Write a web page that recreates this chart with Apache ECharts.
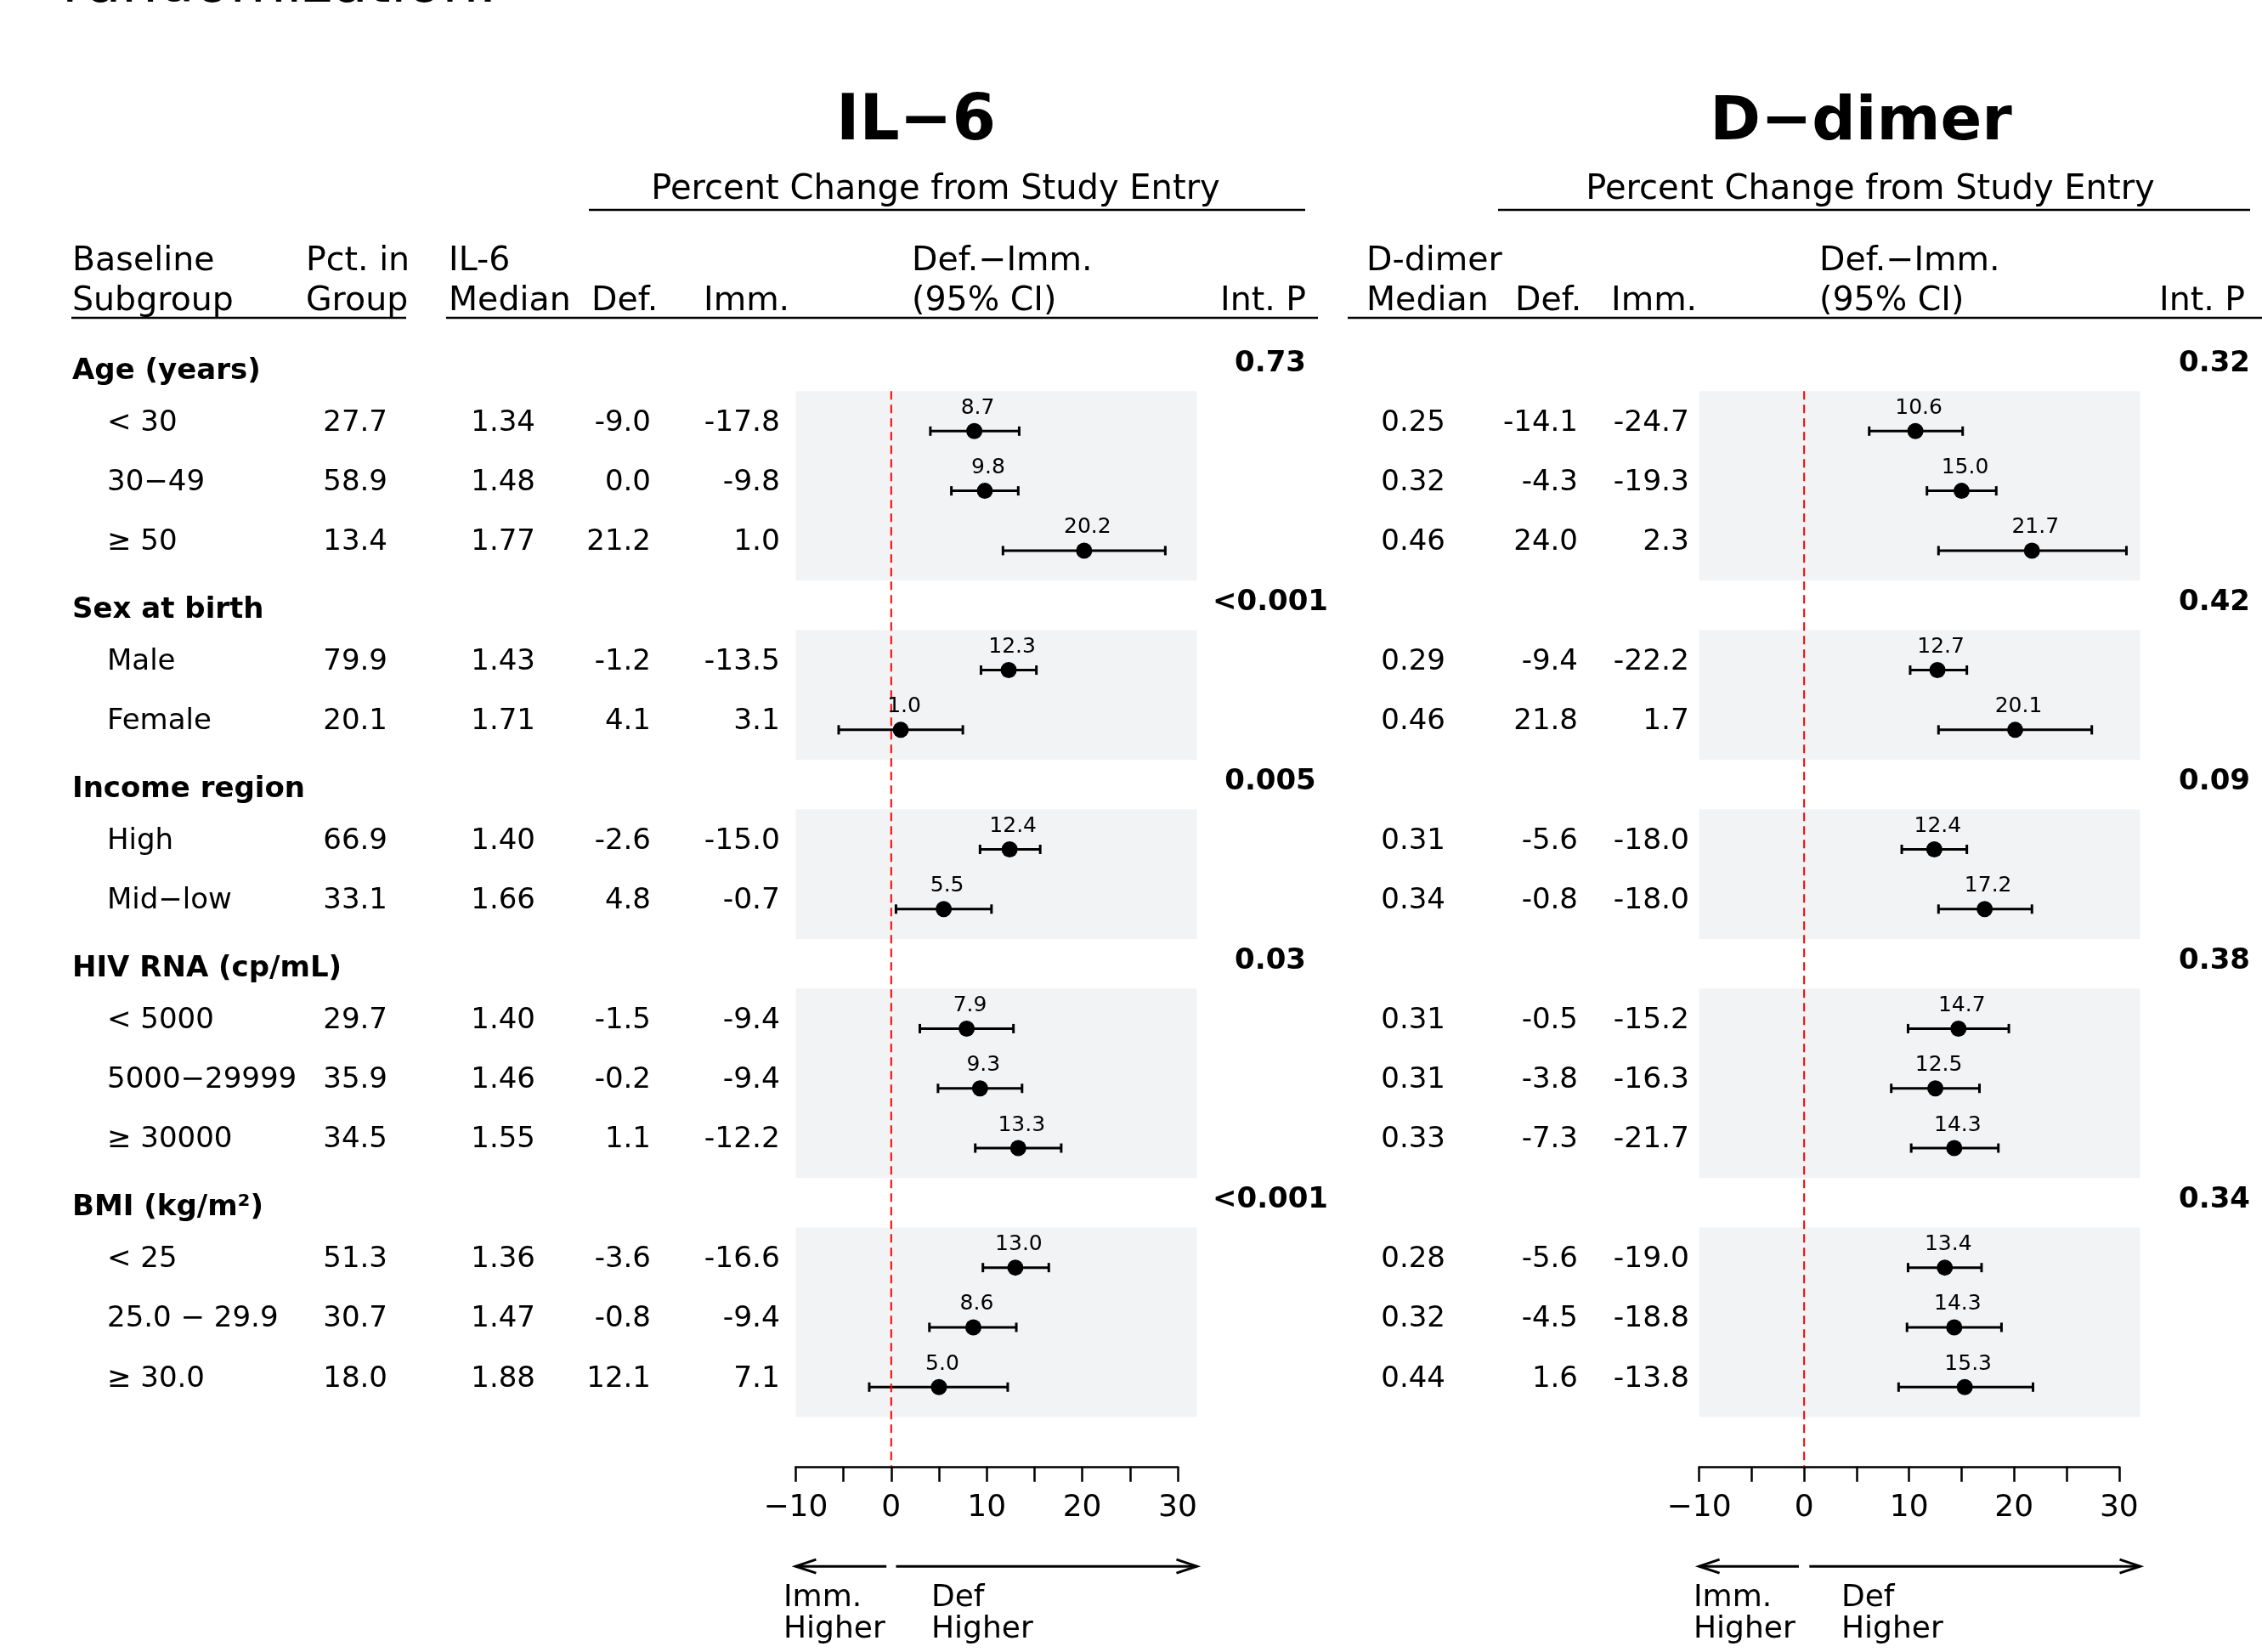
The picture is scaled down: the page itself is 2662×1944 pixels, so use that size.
<!DOCTYPE html>
<html>
<head>
<meta charset="utf-8">
<title>IL-6 / D-dimer subgroup forest plot</title>
<script src="https://cdn.jsdelivr.net/npm/echarts@6/dist/echarts.min.js"></script>
<style>
  html, body { margin: 0; padding: 0; background: #fff; }
  #main { width: 2662px; height: 1944px; }
</style>
</head>
<body>
<div id="main"></div>
<script>
// subgroups
const groupNames = ['Age (years)', 'Sex at birth', 'Income region', 'HIV RNA (cp/mL)', 'BMI (kg/m²)'];
const groupSizes = [3, 2, 2, 3, 3];
const subgroups = ['< 30', '30−49', '≥ 50', 'Male', 'Female', 'High', 'Mid−low',
  '< 5000', '5000−29999', '≥ 30000', '< 25', '25.0 − 29.9', '≥ 30.0'];
const pctInGroup = ['27.7', '58.9', '13.4', '79.9', '20.1', '66.9', '33.1', '29.7', '35.9', '34.5', '51.3', '30.7', '18.0'];

// IL-6
const il6Median = ['1.34', '1.48', '1.77', '1.43', '1.71', '1.40', '1.66', '1.40', '1.46', '1.55', '1.36', '1.47', '1.88'];
const il6Def = ['-9.0', '0.0', '21.2', '-1.2', '4.1', '-2.6', '4.8', '-1.5', '-0.2', '1.1', '-3.6', '-0.8', '12.1'];
const il6Imm = ['-17.8', '-9.8', '1.0', '-13.5', '3.1', '-15.0', '-0.7', '-9.4', '-9.4', '-12.2', '-16.6', '-9.4', '7.1'];
const il6Diff = [8.7, 9.8, 20.2, 12.3, 1.0, 12.4, 5.5, 7.9, 9.3, 13.3, 13.0, 8.6, 5.0];
const il6Lower = [4.1, 6.3, 11.7, 9.4, -5.5, 9.3, 0.5, 3.0, 4.9, 8.8, 9.6, 4.0, -2.3];
const il6Upper = [13.4, 13.3, 28.7, 15.2, 7.5, 15.6, 10.5, 12.8, 13.7, 17.8, 16.5, 13.1, 12.2];
const il6IntP = ['0.73', '<0.001', '0.005', '0.03', '<0.001'];

// D-dimer
const ddMedian = ['0.25', '0.32', '0.46', '0.29', '0.46', '0.31', '0.34', '0.31', '0.31', '0.33', '0.28', '0.32', '0.44'];
const ddDef = ['-14.1', '-4.3', '24.0', '-9.4', '21.8', '-5.6', '-0.8', '-0.5', '-3.8', '-7.3', '-5.6', '-4.5', '1.6'];
const ddImm = ['-24.7', '-19.3', '2.3', '-22.2', '1.7', '-18.0', '-18.0', '-15.2', '-16.3', '-21.7', '-19.0', '-18.8', '-13.8'];
const ddDiff = [10.6, 15.0, 21.7, 12.7, 20.1, 12.4, 17.2, 14.7, 12.5, 14.3, 13.4, 14.3, 15.3];
const ddLower = [6.2, 11.7, 12.8, 10.1, 12.8, 9.3, 12.8, 9.9, 8.3, 10.2, 9.9, 9.8, 9.0];
const ddUpper = [15.1, 18.3, 30.7, 15.5, 27.4, 15.5, 21.7, 19.5, 16.7, 18.5, 16.9, 18.8, 21.8];
const ddIntP = ['0.32', '0.42', '0.09', '0.38', '0.34'];

// x axis: -10..30, ticks every 5, labels every 10
const axisMin = -10, axisMax = 30, axisStep = 5;

// row layout (row 0 = first group header)
const headerRows = [], itemRows = [], bands = [];
let r = 0;
groupSizes.forEach(n => {
  headerRows.push(r);
  bands.push([r + 0.33, r + n + 0.5]);
  for (let i = 1; i <= n; i++) itemRows.push(r + i);
  r += n + 1;
});

const ROW0 = 437, PITCH = 70.31, YMAX = 18.33, DATA_MAX = 32;
const rowY = k => ROW0 + PITCH * k;
const FONT = '"DejaVu Sans", Verdana, sans-serif';
const panels = [
  { left: 936.4, unit: 11.24, diff: il6Diff, lower: il6Lower, upper: il6Upper },
  { left: 1999.6, unit: 12.355, diff: ddDiff, lower: ddLower, upper: ddUpper }
];

const myChart = echarts.init(document.getElementById('main'));

function bandItem(params, api) {
  const p0 = api.coord([axisMin, api.value(0)]);
  const p1 = api.coord([DATA_MAX, api.value(1)]);
  return {
    type: 'rect',
    shape: { x: p0[0], y: p0[1], width: p1[0] - p0[0], height: p1[1] - p0[1] },
    style: { fill: '#f2f3f5' }
  };
}

function ciItem(params, api) {
  const a = api.coord([api.value(0), api.value(2)]);
  const b = api.coord([api.value(1), api.value(2)]);
  const cap = 5.5;
  const st = { stroke: '#000', lineWidth: 3 };
  return {
    type: 'group',
    children: [
      { type: 'line', shape: { x1: a[0], y1: a[1], x2: b[0], y2: b[1] }, style: st },
      { type: 'line', shape: { x1: a[0], y1: a[1] - cap, x2: a[0], y2: a[1] + cap }, style: st },
      { type: 'line', shape: { x1: b[0], y1: b[1] - cap, x2: b[0], y2: b[1] + cap }, style: st }
    ]
  };
}

function arrowItem(params, api) {
  const a = api.coord([api.value(0), api.value(2)]);
  const b = api.coord([api.value(1), api.value(2)]);
  const dir = b[0] > a[0] ? 1 : -1;
  const st = { stroke: '#000', lineWidth: 3, fill: null };
  return {
    type: 'group',
    children: [
      { type: 'line', shape: { x1: a[0], y1: a[1], x2: b[0], y2: b[1] }, style: st },
      { type: 'polyline', shape: { points: [[b[0] - dir * 24, b[1] - 8], [b[0], b[1]], [b[0] - dir * 24, b[1] + 8]] }, style: st }
    ]
  };
}

const grids = [], xAxes = [], yAxes = [], series = [];
panels.forEach((p, i) => {
  const g = i * 2;
  grids.push({ left: p.left, top: ROW0, width: p.unit * (DATA_MAX - axisMin), height: PITCH * YMAX });
  grids.push({ left: p.left, top: ROW0, width: p.unit * (axisMax - axisMin), height: PITCH * YMAX });
  xAxes.push({ gridIndex: g, type: 'value', min: axisMin, max: DATA_MAX, show: false });
  xAxes.push({
    gridIndex: g + 1, type: 'value', min: axisMin, max: axisMax, interval: axisStep, position: 'bottom',
    axisLine: { show: true, onZero: false, lineStyle: { color: '#000', width: 2.5 } },
    axisTick: { show: true, length: 18, lineStyle: { color: '#000', width: 2.5 } },
    axisLabel: {
      margin: 31, fontSize: 36, fontFamily: FONT, color: '#000',
      formatter: v => (v % 10 === 0 ? (v < 0 ? '−' + Math.abs(v) : String(v)) : '')
    },
    splitLine: { show: false }
  });
  yAxes.push({ gridIndex: g, type: 'value', min: 0, max: YMAX, inverse: true, show: false });
  yAxes.push({ gridIndex: g + 1, type: 'value', min: 0, max: YMAX, inverse: true, show: false });

  series.push({
    type: 'custom', xAxisIndex: g, yAxisIndex: g, z: 1,
    renderItem: bandItem, data: bands, encode: { x: 0, y: 1 }
  });
  series.push({
    type: 'custom', xAxisIndex: g, yAxisIndex: g, z: 3,
    renderItem: ciItem, encode: { x: [0, 1], y: 2 },
    data: p.diff.map((d, j) => [p.lower[j], p.upper[j], itemRows[j]])
  });
  series.push({
    type: 'line', xAxisIndex: g, yAxisIndex: g, z: 4, symbol: 'none',
    lineStyle: { color: '#ff0000', width: 2, type: [10, 6] },
    data: [[0, bands[0][0]], [0, YMAX]]
  });
  series.push({
    type: 'scatter', xAxisIndex: g, yAxisIndex: g, z: 5,
    symbol: 'circle', symbolSize: 19, itemStyle: { color: '#000', opacity: 1 },
    label: {
      show: true, position: 'top', distance: 5, offset: [4, 0],
      fontSize: 25, fontFamily: FONT, color: '#000',
      formatter: q => q.value[0].toFixed(1)
    },
    data: p.diff.map((d, j) => [d, itemRows[j]])
  });
  series.push({
    type: 'custom', xAxisIndex: g, yAxisIndex: g, z: 3,
    renderItem: arrowItem, encode: { x: [0, 1], y: 2 },
    data: [[-0.5, axisMin, 20], [0.5, DATA_MAX, 20]]
  });
});

// text and rules
const gfx = [];
function txt(text, x, y, size, align, bold) {
  gfx.push({
    type: 'text', x: x, y: y, silent: true,
    style: {
      text: text, font: (bold ? 'bold ' : '') + size + 'px ' + FONT, fill: '#000',
      align: align, textAlign: align, verticalAlign: 'middle', textVerticalAlign: 'middle'
    }
  });
}
function rule(x1, x2, y) {
  gfx.push({ type: 'line', silent: true, shape: { x1: x1, y1: y, x2: x2, y2: y }, style: { stroke: '#000', lineWidth: 2.5 } });
}

txt('randomization.', 73, -16, 68, 'left', false);
txt('IL−6', 1078, 145, 74, 'center', true);
txt('D−dimer', 2190, 145, 72, 'center', true);
txt('Percent Change from Study Entry', 1101, 224, 40, 'center', false);
txt('Percent Change from Study Entry', 2201, 224, 40, 'center', false);
rule(693, 1536, 247);
rule(1763, 2648, 247);

const head1 = [['Baseline', 85], ['Pct. in', 360], ['IL-6', 528], ['Def.−Imm.', 1073], ['D-dimer', 1608], ['Def.−Imm.', 2141]];
const head2 = [['Subgroup', 85], ['Group', 360], ['Median', 528], ['Def.', 696], ['Imm.', 828], ['(95% CI)', 1073],
  ['Int. P', 1436], ['Median', 1608], ['Def.', 1783], ['Imm.', 1896], ['(95% CI)', 2141], ['Int. P', 2541]];
head1.forEach(h => txt(h[0], h[1], 308, 39.5, 'left', false));
head2.forEach(h => txt(h[0], h[1], 355, 39.5, 'left', false));
rule(84, 478, 374);
rule(525, 1551, 374);
rule(1586, 2662, 374);

groupNames.forEach((name, i) => {
  const y = rowY(headerRows[i]);
  txt(name, 85, y, 34, 'left', true);
  txt(il6IntP[i], 1495, y - 9, 34, 'center', true);
  txt(ddIntP[i], 2606, y - 9, 34, 'center', true);
});

subgroups.forEach((name, j) => {
  const y = rowY(itemRows[j]) - 9.5;
  txt(name, 126, y, 34, 'left', false);
  txt(pctInGroup[j], 456, y, 34, 'right', false);
  txt(il6Median[j], 630, y, 34, 'right', false);
  txt(il6Def[j], 766, y, 34, 'right', false);
  txt(il6Imm[j], 918, y, 34.5, 'right', false);
  txt(ddMedian[j], 1701, y, 34, 'right', false);
  txt(ddDef[j], 1857, y, 34, 'right', false);
  txt(ddImm[j], 1988, y, 34.5, 'right', false);
});

// direction captions under the arrows
[[922, 1096], [1993, 2167]].forEach(xs => {
  txt('Imm.', xs[0], 1881, 36, 'left', false);
  txt('Higher', xs[0], 1918, 36, 'left', false);
  txt('Def', xs[1], 1881, 36, 'left', false);
  txt('Higher', xs[1], 1918, 36, 'left', false);
});

const option = {
  animation: false,
  backgroundColor: '#fff',
  grid: grids,
  xAxis: xAxes,
  yAxis: yAxes,
  series: series,
  graphic: { elements: gfx }
};
myChart.setOption(option);
</script>
</body>
</html>
